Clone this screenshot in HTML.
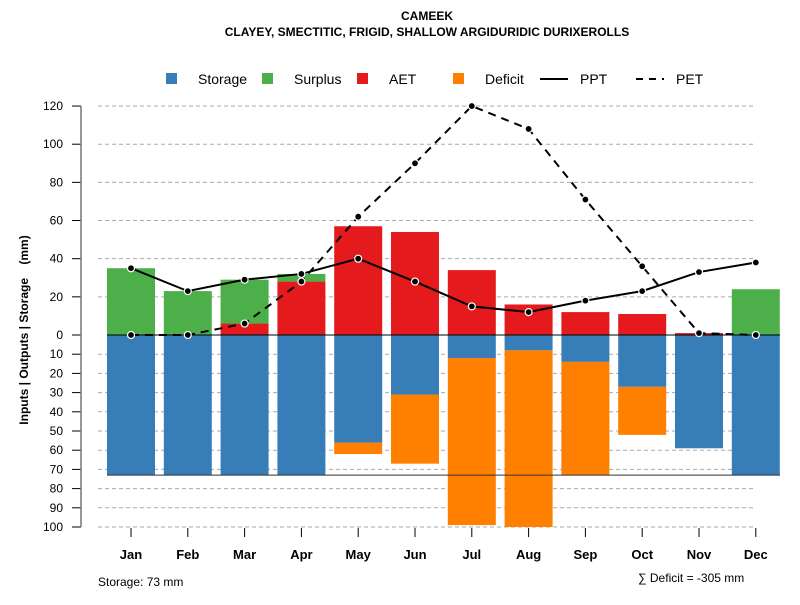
<!DOCTYPE html>
<html><head><meta charset="utf-8"><style>
body{margin:0;background:#fff;}
svg text{font-family:"Liberation Sans",sans-serif;}
</style></head><body>
<svg id="chart" width="800" height="600" xmlns="http://www.w3.org/2000/svg">
<text x="427" y="20" text-anchor="middle" font-size="12" font-weight="bold">CAMEEK</text>
<text x="427" y="36" text-anchor="middle" font-size="12" font-weight="bold">CLAYEY, SMECTITIC, FRIGID, SHALLOW ARGIDURIDIC DURIXEROLLS</text>
<g id="grid"></g>
<g id="bars"></g>
<g id="lines"></g>
<g id="axes"></g>
<g font-size="14">
<rect x="166" y="73" width="11" height="11" fill="#377eb8"/>
<text x="198" y="84">Storage</text>
<rect x="262" y="73" width="11" height="11" fill="#4daf4a"/>
<text x="294" y="84">Surplus</text>
<rect x="357" y="73" width="11" height="11" fill="#e41a1c"/>
<text x="389" y="84">AET</text>
<rect x="453" y="73" width="11" height="11" fill="#ff7f00"/>
<text x="485" y="84">Deficit</text>
<line x1="540" y1="79" x2="568" y2="79" stroke="#000" stroke-width="2"/>
<text x="580" y="84">PPT</text>
<line x1="636" y1="79" x2="664" y2="79" stroke="#000" stroke-width="2" stroke-dasharray="7,6"/>
<text x="676" y="84">PET</text>
</g>
<text transform="translate(28,330) rotate(-90)" text-anchor="middle" font-size="12" font-weight="bold" xml:space="preserve">Inputs | Outputs | Storage    (mm)</text>
<text x="98" y="586" font-size="12">Storage: 73 mm</text>
<text x="638" y="582" font-size="12">∑ Deficit = -305 mm</text>
</svg>
<script>
const months=["Jan","Feb","Mar","Apr","May","Jun","Jul","Aug","Sep","Oct","Nov","Dec"];
const storage=[73,73,73,73,56,31,12,8,14,27,59,73];
const deficit=[0,0,0,0,6,36,87,92,59,25,0,0];
const aet=[0,0,6,28,57,54,34,16,12,11,1,0];
const surplus=[35,23,23,4,0,0,0,0,0,0,0,24];
const ppt=[35,23,29,32,40,28,15,12,18,23,33,38];
const pet=[0,0,6,28,62,90,120,108,71,36,1,0];
const posTicks=[0,20,40,60,80,100,120];
const negTicks=[10,20,30,40,50,60,70,80,90,100];
const maxStorage=73;

const NS="http://www.w3.org/2000/svg";
const y0=335;
function yPos(v){return y0-v*1.908;}
function yNeg(v){return y0+v*1.92;}
function xC(i){return 131+i*56.8;}
function mk(p,tag,at){const e=document.createElementNS(NS,tag);for(const k in at)e.setAttribute(k,at[k]);p.appendChild(e);return e;}
const grid=document.getElementById('grid'),bars=document.getElementById('bars'),lines=document.getElementById('lines'),axes=document.getElementById('axes');
posTicks.forEach(t=>{
 if(t>0){const g=mk(grid,'line',{x1:98,x2:756,y1:yPos(t),y2:yPos(t),stroke:'#aaa','stroke-dasharray':'4,3'});
 
 }
 const tk=mk(axes,'line',{x1:72,x2:81,y1:yPos(t),y2:yPos(t),stroke:'#000'});
 
 
 const tx=mk(axes,'text',{x:63,y:yPos(t)+4,'text-anchor':'end','font-size':12});tx.textContent=t;
 
 
});
negTicks.forEach(t=>{
 const g=mk(grid,'line',{x1:98,x2:756,y1:yNeg(t),y2:yNeg(t),stroke:'#aaa','stroke-dasharray':'4,3'});
 
 
 const tk=mk(axes,'line',{x1:72,x2:81,y1:yNeg(t),y2:yNeg(t),stroke:'#000'});
 
 
 const tx=mk(axes,'text',{x:63,y:yNeg(t)+4,'text-anchor':'end','font-size':12});tx.textContent=t;
 
 
});
const ax=mk(axes,'line',{x1:81,x2:81,y1:yPos(120),y2:yNeg(100),stroke:'#777','stroke-width':1.5});


const bw=48;
months.forEach((m,i)=>{
 const x=xC(i)-bw/2;
 let r=mk(bars,'rect',{x:x,y:y0,width:bw,height:yNeg(storage[i])-y0,fill:'#377eb8'});
 
 
 if(deficit[i]>0){r=mk(bars,'rect',{x:x,y:yNeg(storage[i]),width:bw,height:yNeg(storage[i]+deficit[i])-yNeg(storage[i]),fill:'#ff7f00'});
 
 }
 if(aet[i]>0){r=mk(bars,'rect',{x:x,y:yPos(aet[i]),width:bw,height:y0-yPos(aet[i]),fill:'#e41a1c'});
 
 }
 if(surplus[i]>0){r=mk(bars,'rect',{x:x,y:yPos(aet[i]+surplus[i]),width:bw,height:yPos(aet[i])-yPos(aet[i]+surplus[i]),fill:'#4daf4a'});
 
 }
 const tk=mk(axes,'line',{x1:xC(i),x2:xC(i),y1:528,y2:537,stroke:'#000'});
 
 
 const tx=mk(axes,'text',{x:xC(i),y:559,'text-anchor':'middle','font-size':13,'font-weight':'bold'});tx.textContent=m;
 
 
});
let zl=mk(lines,'line',{x1:107,x2:780,y1:y0,y2:y0,stroke:'#000'});


zl=mk(lines,'line',{x1:107,x2:780,y1:yNeg(maxStorage),y2:yNeg(maxStorage),stroke:'#333'});


function series(arr,name,dash){
 const pts=arr.map((v,i)=>xC(i)+','+yPos(v)).join(' ');
 const pl=mk(lines,'polyline',{points:pts,fill:'none',stroke:'#000','stroke-width':2,'stroke-dasharray':dash});
 
 
 arr.forEach((v,i)=>{const c=mk(lines,'circle',{cx:xC(i),cy:yPos(v),r:3.5,fill:'#000',stroke:'#fff','stroke-width':1.2});
 
 });
}
series(ppt,'ppt','none');
series(pet,'pet','8,6');
</script>
</body></html>
